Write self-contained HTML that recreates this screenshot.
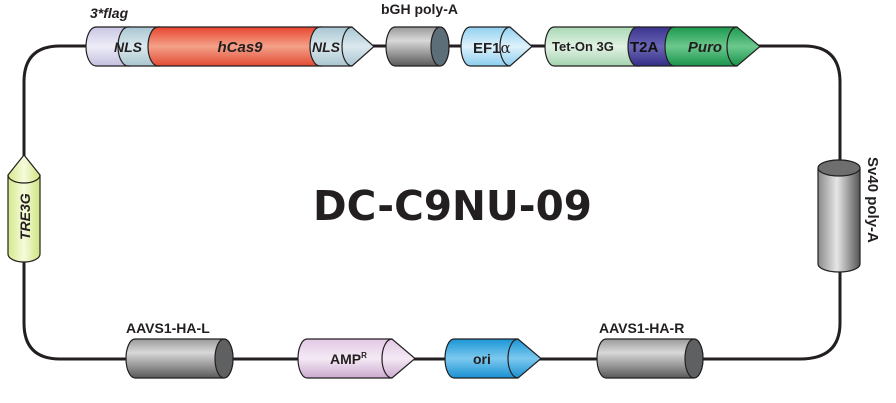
<!DOCTYPE html>
<html><head><meta charset="utf-8"><style>
html,body{margin:0;padding:0;background:#fff;}
svg{display:block;}
text{font-family:"Liberation Sans",Arial,sans-serif;font-weight:bold;fill:#231f20;}
text.title{font-family:"DejaVu Sans",sans-serif;}
</style></head><body>
<svg width="896" height="403" viewBox="0 0 896 403" xmlns="http://www.w3.org/2000/svg">
<defs>
<linearGradient id="gray" x1="0" y1="0" x2="0" y2="1"><stop offset="0" stop-color="#9a9a9a"/><stop offset="0.35" stop-color="#d8d8d8"/><stop offset="1" stop-color="#5a5a5a"/></linearGradient>
<linearGradient id="grayh" x1="0" y1="0" x2="1" y2="0"><stop offset="0" stop-color="#8a8a8a"/><stop offset="0.45" stop-color="#e6e6e6"/><stop offset="1" stop-color="#555"/></linearGradient>
<linearGradient id="red" x1="0" y1="0" x2="0" y2="1"><stop offset="0" stop-color="#e8452f"/><stop offset="0.5" stop-color="#f4a18a"/><stop offset="1" stop-color="#e24a32"/></linearGradient>
<linearGradient id="nls" x1="0" y1="0" x2="0" y2="1"><stop offset="0" stop-color="#a8c6d2"/><stop offset="0.5" stop-color="#dbe9ee"/><stop offset="1" stop-color="#a9c5d0"/></linearGradient>
<linearGradient id="flag" x1="0" y1="0" x2="0" y2="1"><stop offset="0" stop-color="#c9c6e4"/><stop offset="0.5" stop-color="#eeedf7"/><stop offset="1" stop-color="#c3c0df"/></linearGradient>
<linearGradient id="ef" x1="0" y1="0" x2="0" y2="1"><stop offset="0" stop-color="#8fd0f0"/><stop offset="0.5" stop-color="#dff2fb"/><stop offset="1" stop-color="#8ccdee"/></linearGradient>
<linearGradient id="tet" x1="0" y1="0" x2="0" y2="1"><stop offset="0" stop-color="#a9d8b4"/><stop offset="0.5" stop-color="#e1f2e4"/><stop offset="1" stop-color="#a4d3ae"/></linearGradient>
<linearGradient id="t2a" x1="0" y1="0" x2="0" y2="1"><stop offset="0" stop-color="#3a3490"/><stop offset="0.5" stop-color="#6b66b5"/><stop offset="1" stop-color="#332e86"/></linearGradient>
<linearGradient id="puro" x1="0" y1="0" x2="0" y2="1"><stop offset="0" stop-color="#1c9a4f"/><stop offset="0.5" stop-color="#6cc88d"/><stop offset="1" stop-color="#18934b"/></linearGradient>
<linearGradient id="amp" x1="0" y1="0" x2="0" y2="1"><stop offset="0" stop-color="#e2c8e4"/><stop offset="0.5" stop-color="#f4eaf5"/><stop offset="1" stop-color="#cba9cf"/></linearGradient>
<linearGradient id="ori" x1="0" y1="0" x2="0" y2="1"><stop offset="0" stop-color="#1a96d6"/><stop offset="0.5" stop-color="#7cc9ee"/><stop offset="1" stop-color="#1990d2"/></linearGradient>
<linearGradient id="tre" x1="0" y1="0" x2="1" y2="0"><stop offset="0" stop-color="#d5e98a"/><stop offset="0.5" stop-color="#f6fbdc"/><stop offset="1" stop-color="#cfe47e"/></linearGradient>
</defs>
<path d="M85,46 L60,46 Q24,46 24,82 L24,323 Q24,359 60,359 L800,359 Q840,359 840,323 L840,82 Q840,46 804,46 L760,46" fill="none" stroke="#231f20" stroke-width="3"/>
<line x1="85" y1="46" x2="770" y2="46" stroke="#231f20" stroke-width="3"/>
<g stroke="#231f20" stroke-width="1.2">
<path d="M96,27 L130,27 L130,66 L96,66 A10,19.5 0 0 1 96,27 Z" fill="url(#flag)"/>
<path d="M128,27 L160,27 L160,66 L128,66 A10,19.5 0 0 1 128,27 Z" fill="url(#nls)"/>
<path d="M158,27 L322,27 L322,66 L158,66 A10,19.5 0 0 1 158,27 Z" fill="url(#red)"/>
<path d="M320,27 L352,27 L374,46.5 L352,66 L320,66 A10,19.5 0 0 1 320,27 Z" fill="url(#nls)"/>
<path d="M352,27 A10,19.5 0 0 0 352,66" fill="none"/>
<path d="M395,27 L440,27 A9,19.5 0 0 1 440,66 L395,66 A9,19.5 0 0 1 395,27 Z" fill="url(#gray)"/>
<ellipse cx="440" cy="46.5" rx="9" ry="19.5" fill="#5c6e78"/>
<path d="M470,27 L510,27 L532,46.5 L510,66 L470,66 A9,19.5 0 0 1 470,27 Z" fill="url(#ef)"/>
<path d="M510,27 A10,19.5 0 0 0 510,66" fill="none"/>
<path d="M554,27 L640,27 L640,66 L554,66 A9,19.5 0 0 1 554,27 Z" fill="url(#tet)"/>
<path d="M637,27 L674,27 L674,66 L637,66 A9,19.5 0 0 1 637,27 Z" fill="url(#t2a)"/>
<path d="M674,27 L737,27 L760,46.5 L737,66 L674,66 A9,19.5 0 0 1 674,27 Z" fill="url(#puro)"/>
<path d="M737,27 A10,19.5 0 0 0 737,66" fill="none"/>
<path d="M8,175 L24,155 L40,175 L40,254 A16,8 0 0 1 8,254 Z" fill="url(#tre)"/>
<path d="M8,175 A16,8 0 0 0 40,175" fill="none"/>
<path d="M818,168 A21,8 0 0 1 860,168 L860,264 A21,8 0 0 1 818,264 Z" fill="url(#grayh)"/>
<ellipse cx="839" cy="168" rx="21" ry="8" fill="#6e6e6e"/>
<path d="M135,339 L224,339 A9,19.5 0 0 1 224,378 L135,378 A9,19.5 0 0 1 135,339 Z" fill="url(#gray)"/>
<ellipse cx="224" cy="358.5" rx="9" ry="19.5" fill="#5e6062"/>
<path d="M307,339 L392,339 L415,358.5 L392,378 L307,378 A9,19.5 0 0 1 307,339 Z" fill="url(#amp)"/>
<path d="M392,339 A10,19.5 0 0 0 392,378" fill="none"/>
<path d="M454,339 L518,339 L541,358.5 L518,378 L454,378 A9,19.5 0 0 1 454,339 Z" fill="url(#ori)"/>
<path d="M518,339 A10,19.5 0 0 0 518,378" fill="none"/>
<path d="M606,339 L694,339 A9,19.5 0 0 1 694,378 L606,378 A9,19.5 0 0 1 606,339 Z" fill="url(#gray)"/>
<ellipse cx="694" cy="358.5" rx="9" ry="19.5" fill="#5e6062"/>
</g>
<text x="90" y="18" font-size="14" font-style="italic">3*flag</text>
<text x="114" y="52" font-size="14" font-style="italic">NLS</text>
<text x="240" y="52" font-size="15" font-style="italic" text-anchor="middle">hCas9</text>
<text x="312" y="52" font-size="14" font-style="italic">NLS</text>
<text x="381" y="14" font-size="14">bGH poly-A</text>
<text x="473" y="53" font-size="15">EF1<tspan font-family="DejaVu Serif,serif" font-weight="normal">α</tspan></text>
<text x="552" y="51" font-size="13">Tet-On 3G</text>
<text x="630" y="52" font-size="15" style="fill:#111">T2A</text>
<text x="705" y="52" font-size="15" font-style="italic" text-anchor="middle">Puro</text>
<text transform="translate(30,240) rotate(-90)" font-size="14" font-style="italic">TRE3G</text>
<text transform="translate(868,157) rotate(90)" font-size="15">Sv40 poly-A</text>
<text x="126" y="333" font-size="14">AAVS1-HA-L</text>
<text x="330" y="364" font-size="14">AMP<tspan font-size="8" dy="-6">R</tspan></text>
<text x="473" y="364" font-size="14">ori</text>
<text x="599" y="333" font-size="14">AAVS1-HA-R</text>
<text class="title" x="313" y="220" font-size="41" textLength="279" lengthAdjust="spacingAndGlyphs">DC-C9NU-09</text>
</svg>
</body></html>
